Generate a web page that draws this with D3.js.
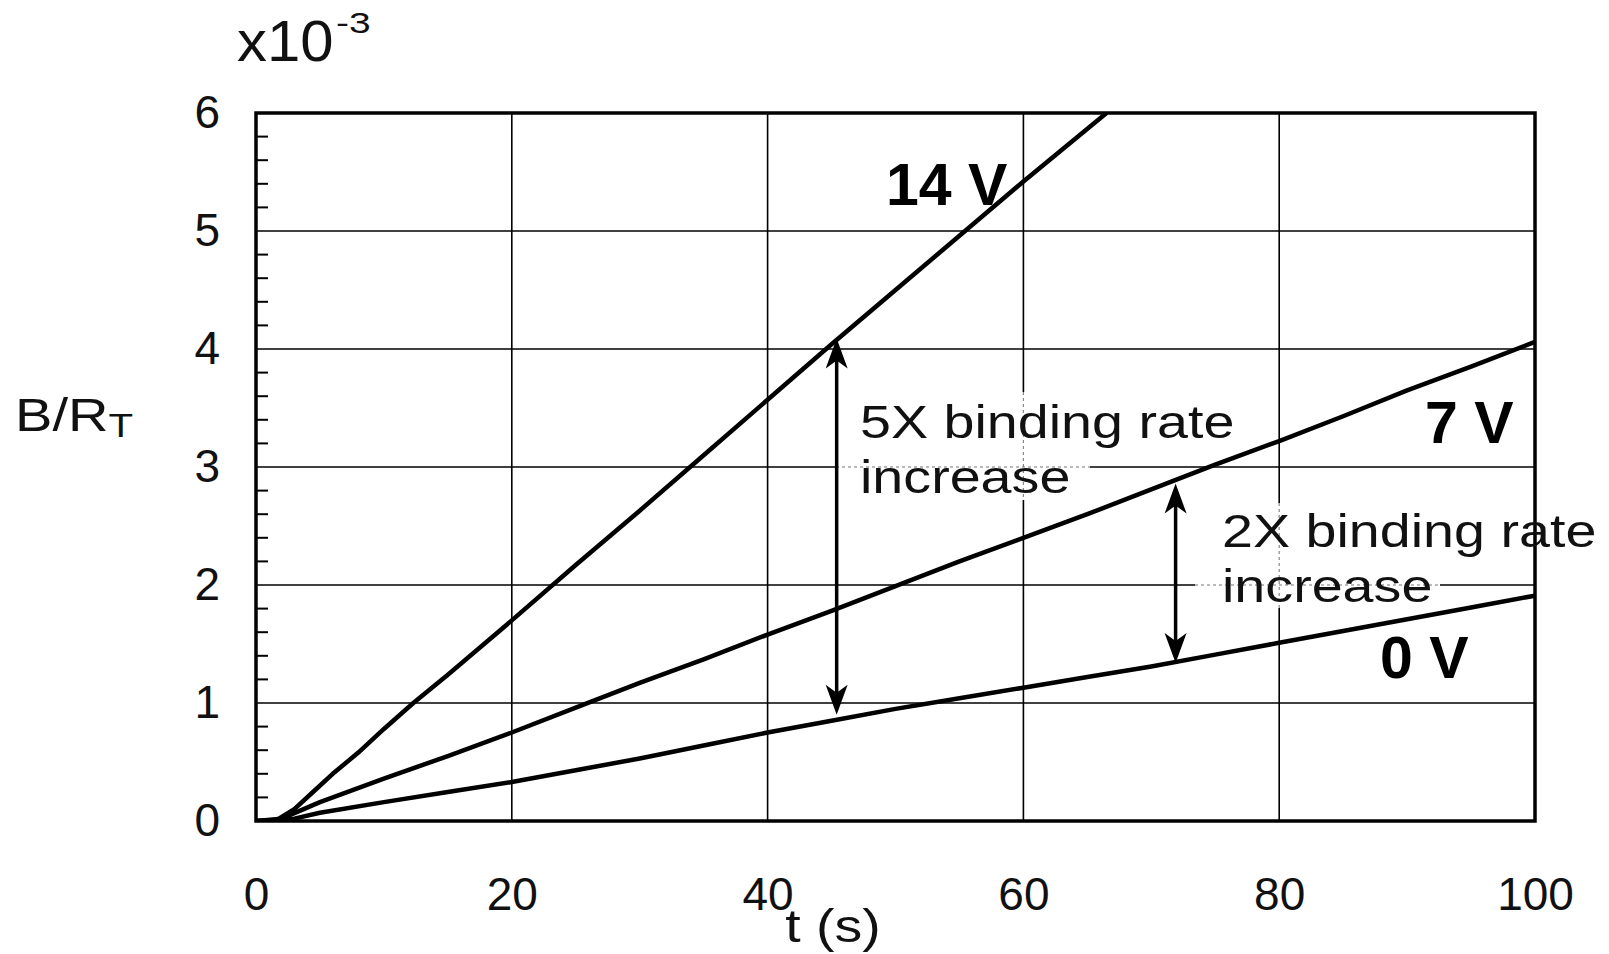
<!DOCTYPE html>
<html>
<head>
<meta charset="utf-8">
<script src="https://cdn.jsdelivr.net/npm/d3@7"></script>
<style>
  body { margin: 0; background: #fff; }
  svg { display: block; font-family: "Liberation Sans", Arial, sans-serif; }
</style>
</head>
<body>
<script>
// Data (t in s, B/RT in units of 1e-3)
const t14 = [0, 1.5, 3, 4.5, 6, 8, 10, 12.3, 15, 20, 25, 30, 35, 40, 45, 50, 55, 60, 66.5];
const v14 = [0, 0, 0.1, 0.25, 0.4, 0.58, 0.78, 1.0, 1.24, 1.7, 2.17, 2.63, 3.1, 3.57, 4.04, 4.5, 4.96, 5.42, 6.0];

const t7 = [0, 2, 5, 10, 15, 20, 25, 30, 35, 40, 45, 50, 55, 60, 65, 70, 75, 80, 85, 90, 95, 100];
const v7 = [0, 0.02, 0.16, 0.36, 0.55, 0.75, 0.96, 1.17, 1.37, 1.58, 1.78, 1.99, 2.2, 2.4, 2.6, 2.81, 3.02, 3.22, 3.43, 3.65, 3.85, 4.06];

const t0 = [0, 3, 5, 10, 15, 20, 25, 30, 35, 40, 45, 50, 55, 60, 65, 70, 75, 80, 85, 90, 95, 100];
const v0 = [0, 0.02, 0.07, 0.16, 0.245, 0.33, 0.43, 0.53, 0.64, 0.75, 0.85, 0.95, 1.04, 1.13, 1.22, 1.31, 1.41, 1.51, 1.61, 1.71, 1.81, 1.91];

const xTicks = [0, 20, 40, 60, 80, 100];
const yTicks = [0, 1, 2, 3, 4, 5, 6];

// annotation arrows: [t, from, to]
const arrows = [[45.4, 0.9, 4.09], [71.9, 1.34, 2.86]];

const W = 1609, H = 954;
const margin = { top: 113, right: 74, bottom: 133, left: 256 };
const iw = W - margin.left - margin.right;
const ih = H - margin.top - margin.bottom;

const svg = d3.select('body').append('svg')
  .attr('width', W).attr('height', H);

const g = svg.append('g')
  .attr('transform', `translate(${margin.left},${margin.top})`);

const x = d3.scaleLinear().domain([0, 100]).range([0, iw]);
const y = d3.scaleLinear().domain([0, 6]).range([ih, 0]);

// grid lines
const vGrid = xTicks.slice(1, -1);
const hGrid = yTicks.slice(1, -1);
g.append('g').selectAll('line')
  .data(vGrid)
  .join('line')
  .attr('x1', d => x(d)).attr('x2', d => x(d))
  .attr('y1', 0).attr('y2', ih)
  .attr('stroke', '#000').attr('stroke-width', 1.6);

g.append('g').selectAll('line')
  .data(hGrid)
  .join('line')
  .attr('x1', 0).attr('x2', iw)
  .attr('y1', d => y(d)).attr('y2', d => y(d))
  .attr('stroke', '#000').attr('stroke-width', 1.6);

// text boxes that knock the grid out (page coords), grid shows dotted inside
const boxes = [
  { x0: 836, x1: 1090, y0: 392, y1: 500 },
  { x0: 1195, x1: 1440, y0: 503, y1: 608 }
];
boxes.forEach(b => {
  const bx0 = b.x0 - margin.left, bx1 = b.x1 - margin.left;
  const by0 = b.y0 - margin.top, by1 = b.y1 - margin.top;
  g.append('rect')
    .attr('x', bx0).attr('y', by0)
    .attr('width', bx1 - bx0).attr('height', by1 - by0)
    .attr('fill', '#fff');
  vGrid.filter(d => x(d) > bx0 && x(d) < bx1).forEach(d => {
    g.append('line')
      .attr('x1', x(d)).attr('x2', x(d)).attr('y1', by0).attr('y2', by1)
      .attr('stroke', '#888').attr('stroke-width', 1.2)
      .attr('stroke-dasharray', '3,3');
  });
  hGrid.filter(d => y(d) > by0 && y(d) < by1).forEach(d => {
    g.append('line')
      .attr('x1', bx0).attr('x2', bx1).attr('y1', y(d)).attr('y2', y(d))
      .attr('stroke', '#777').attr('stroke-width', 1.2)
      .attr('stroke-dasharray', '3,3');
  });
});

// minor ticks on the y axis (inside)
const minor = d3.range(0, 6.001, 0.2).filter(d => Math.abs(d - Math.round(d)) > 0.01);
g.append('g').selectAll('line')
  .data(minor)
  .join('line')
  .attr('x1', 0).attr('x2', 12)
  .attr('y1', d => y(d)).attr('y2', d => y(d))
  .attr('stroke', '#000').attr('stroke-width', 2);

// frame
g.append('rect')
  .attr('x', 0).attr('y', 0).attr('width', iw).attr('height', ih)
  .attr('fill', 'none').attr('stroke', '#000').attr('stroke-width', 3.5);

// tick labels via d3 axes
const xAxis = g.append('g')
  .attr('transform', `translate(0,${ih})`)
  .call(d3.axisBottom(x).tickValues(xTicks).tickFormat(d3.format('d')).tickSize(0).tickPadding(56));
const yAxis = g.append('g')
  .call(d3.axisLeft(y).tickValues(yTicks).tickFormat(d3.format('d')).tickSize(0).tickPadding(36));
[xAxis, yAxis].forEach(a => {
  a.select('.domain').remove();
  a.selectAll('text')
    .attr('font-size', 46)
    .attr('font-family', '"Liberation Sans", Arial, sans-serif')
    .attr('fill', '#111');
});

// curves
g.append('clipPath').attr('id', 'clip')
  .append('rect').attr('width', iw).attr('height', ih);

const line = d3.line().x(d => x(d[0])).y(d => y(d[1]));
const series = [d3.zip(t14, v14), d3.zip(t7, v7), d3.zip(t0, v0)];
g.append('g').attr('clip-path', 'url(#clip)')
  .selectAll('path')
  .data(series)
  .join('path')
  .attr('d', line)
  .attr('fill', 'none')
  .attr('stroke', '#000')
  .attr('stroke-width', 4.5)
  .attr('stroke-linejoin', 'round');

// arrows
const head = 'M0,0 L-11,30 L0,22 L11,30 Z';
arrows.forEach(([t, a, b]) => {
  const ax = x(t), y1 = y(a), y2 = y(b);
  g.append('line')
    .attr('x1', ax).attr('x2', ax)
    .attr('y1', y1 - 10).attr('y2', y2 + 10)
    .attr('stroke', '#000').attr('stroke-width', 3.5);
  g.append('path').attr('d', head)
    .attr('transform', `translate(${ax},${y2})`).attr('fill', '#000');
  g.append('path').attr('d', head)
    .attr('transform', `translate(${ax},${y1}) rotate(180)`).attr('fill', '#000');
});

// annotation text (horizontally stretched like the original)
const notes = [
  { x: 860, y: 438, lines: ['5X binding rate', 'increase'] },
  { x: 1222, y: 547, lines: ['2X binding rate', 'increase'] }
];
notes.forEach(n => {
  const txt = svg.append('text')
    .attr('transform', `translate(${n.x},${n.y}) scale(1.21,1)`)
    .attr('font-size', 46).attr('fill', '#111');
  n.lines.forEach((l, i) => {
    txt.append('tspan').attr('x', 0).attr('y', i * 55).text(l);
  });
});

// voltage labels
const vLabels = [
  { text: '14 V', x: 886, y: 205 },
  { text: '7 V', x: 1425, y: 443 },
  { text: '0 V', x: 1380, y: 678 }
];
svg.append('g').selectAll('text')
  .data(vLabels)
  .join('text')
  .attr('x', d => d.x).attr('y', d => d.y)
  .attr('font-size', 59).attr('font-weight', 'bold')
  .attr('fill', '#000')
  .text(d => d.text);

// y axis title B/R_T
const yt = svg.append('text')
  .attr('transform', 'translate(15,431) scale(1.22,1)')
  .attr('font-size', 46).attr('fill', '#111');
yt.append('tspan').text('B/R');
yt.append('tspan').attr('font-size', 33).attr('dy', 6).text('T');

// x axis title
svg.append('text')
  .attr('transform', 'translate(833,942) scale(1.18,1)')
  .attr('text-anchor', 'middle')
  .attr('font-size', 47).attr('fill', '#111')
  .text('t (s)');

// exponent label
svg.append('text')
  .attr('transform', 'translate(237,61) scale(1.05,1)')
  .attr('font-size', 57).attr('fill', '#111')
  .text('x10');
svg.append('text')
  .attr('transform', 'translate(336,33) scale(1.3,1)')
  .attr('font-size', 30).attr('fill', '#111')
  .text('-3');
</script>
</body>
</html>
